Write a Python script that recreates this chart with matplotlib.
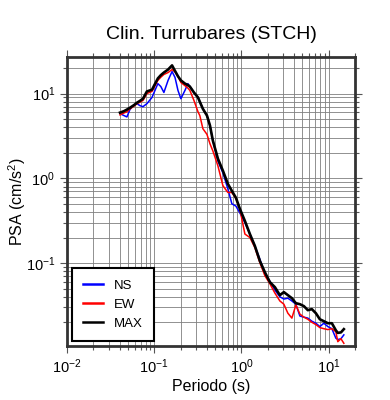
import matplotlib
matplotlib.use("Agg")
import matplotlib.pyplot as plt
from matplotlib.ticker import LogLocator, LogFormatterSciNotation, NullFormatter

plt.rcParams['font.family'] = ['Liberation Sans', 'DejaVu Sans']
plt.rcParams['mathtext.fontset'] = 'custom'
plt.rcParams['mathtext.rm'] = 'Liberation Sans'
plt.rcParams['mathtext.it'] = 'Liberation Sans:italic'
plt.rcParams['mathtext.bf'] = 'Liberation Sans:bold'

title = "Clin. Turrubares (STCH)"
xlabel = "Periodo (s)"
ylabel = "PSA (cm/s$^2$)"
series_names = ["NS", "EW", "MAX"]

periods = [0.0405, 0.045, 0.0486, 0.0527, 0.0585, 0.0634, 0.0686, 0.0743, 0.0824, 0.0942,
           0.110, 0.119, 0.129, 0.144, 0.160, 0.173, 0.187, 0.202, 0.225, 0.243,
           0.256, 0.285, 0.317, 0.333, 0.361, 0.402, 0.435, 0.470, 0.537, 0.612,
           0.698, 0.776, 0.863, 0.959, 1.094, 1.248, 1.424, 1.624, 1.853, 2.114,
           2.413, 2.753, 3.06, 3.40, 3.78, 4.20, 4.67, 5.19, 5.76, 6.40,
           7.12, 7.91, 8.79, 9.77, 10.86, 12.06, 12.7, 13.8, 14.9]

psa_ns = [5.8, 5.5, 5.3, 6.5, 7.3, 7.6, 7.2, 7.0, 7.6, 9.0,
          13.1, 12.1, 10.3, 14.3, 18.2, 15.5, 10.9, 8.7, 10.9, 13.1,
          12.1, 10.3, 9.0, 8.0, 6.6, 5.5, 4.2, 2.78, 1.6, 1.16,
          0.75, 0.5, 0.47, 0.39, 0.30, 0.22, 0.159, 0.111, 0.074, 0.061,
          0.048, 0.040, 0.0376, 0.0385, 0.0357, 0.0327, 0.0237, 0.023, 0.0224, 0.0206,
          0.0195, 0.0178, 0.0195, 0.0178, 0.0168, 0.013, 0.0125, 0.0128, 0.0142]

psa_ew = [5.6, 5.9, 6.1, 6.6, 7.1, 7.6, 7.9, 8.3, 10.0, 10.6,
          14.3, 15.6, 16.8, 17.7, 19.2, 18.0, 16.0, 13.5, 12.4, 11.6,
          10.9, 8.3, 6.1, 5.5, 3.85, 3.3, 2.56, 2.1, 1.4, 0.82,
          0.68, 0.68, 0.58, 0.43, 0.22, 0.20, 0.152, 0.101, 0.071, 0.057,
          0.0443, 0.0357, 0.0327, 0.0256, 0.0224, 0.032, 0.025, 0.023, 0.0217, 0.020,
          0.0188, 0.0173, 0.0168, 0.0164, 0.0168, 0.0155, 0.0118, 0.0128, 0.0113]

psa_max = [5.96, 6.2, 6.47, 6.8, 7.3, 7.8, 8.2, 8.7, 10.6, 11.1,
           15.1, 16.5, 17.7, 19.2, 21.5, 18.5, 16.0, 14.3, 13.1, 12.6,
           12.1, 10.3, 9.0, 8.0, 6.6, 5.5, 4.2, 2.78, 1.70, 1.23,
           0.86, 0.71, 0.59, 0.435, 0.314, 0.22, 0.159, 0.106, 0.078, 0.0596,
           0.052, 0.0418, 0.0454, 0.0418, 0.0385, 0.0336, 0.0327, 0.031, 0.0278, 0.0286,
           0.0256, 0.0217, 0.0206, 0.0195, 0.0195, 0.0161, 0.0150, 0.0152, 0.0166]

fig = plt.figure(figsize=(3.9, 4.0), dpi=100)
ax = fig.add_axes([67/390, 1-346/400, (355-67)/390, (346-57)/400])

ax.plot(periods, psa_ns, color='#0000ff', lw=1.1, label=series_names[0], zorder=3)
ax.plot(periods, psa_ew, color='#ff0000', lw=1.1, label=series_names[1], zorder=4)
ax.plot(periods, psa_max, color='black', lw=1.9, label=series_names[2], zorder=5)

ax.set_xscale('log')
ax.set_yscale('log')
ax.set_xlim(0.01, 20)
ax.set_ylim(0.0105, 27)

for axis in (ax.xaxis, ax.yaxis):
    axis.set_major_locator(LogLocator(base=10, numticks=20))
    axis.set_minor_locator(LogLocator(base=10, subs=range(2, 10), numticks=50))
    axis.set_major_formatter(LogFormatterSciNotation())
    axis.set_minor_formatter(NullFormatter())

ax.grid(True, which='both', color='#7f7f7f', lw=0.6, zorder=0)
ax.set_axisbelow(True)

ax.tick_params(which='both', direction='out', top=True, right=True, labelsize=10.5,
               color='#555555', width=0.8)
ax.tick_params(which='major', length=5)
ax.tick_params(which='minor', length=3)
for s in ax.spines.values():
    s.set_linewidth(2.0)
    s.set_color('#333333')

ax.set_title(title, fontsize=14, pad=13)
ax.set_xlabel(xlabel, fontsize=11.5, labelpad=2)
ax.set_ylabel(ylabel, fontsize=11.5)
ax.yaxis.set_label_coords(-0.135, 0.5)

leg = ax.legend(loc='lower left', fontsize=9.5, frameon=True, fancybox=False,
                edgecolor='black', framealpha=1, borderpad=0.85, labelspacing=0.5,
                handlelength=1.5, handletextpad=0.8, borderaxespad=0.4)
leg.get_frame().set_linewidth(1.5)
for line in leg.get_lines():
    line.set_linewidth(1.8)

fig.savefig('out.png', dpi=100)
